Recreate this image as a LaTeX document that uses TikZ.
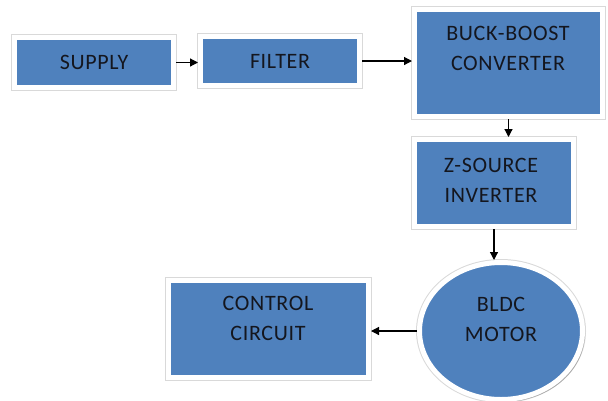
\documentclass[tikz,border=0pt]{standalone}
\usepackage{fontspec}
\setmainfont{Carlito}[LetterSpace=3]
\usetikzlibrary{shadows,arrows.meta,shapes.geometric}
\definecolor{officeblue}{RGB}{79,129,189}
\definecolor{txt}{RGB}{20,22,30}
\begin{document}
\begin{tikzpicture}[x=1pt,y=-1pt,
  blk/.style={rectangle, fill=officeblue, draw=white, line width=5pt,
    preaction={draw=black!15, line width=7pt},
    drop shadow={shadow xshift=2.5pt, shadow yshift=-2.5pt, fill=black!45, opacity=0.6},
    inner sep=0pt, font=\fontsize{22}{30}\selectfont, text=txt, align=center},
  oval/.style={ellipse, fill=officeblue, draw=white, line width=5pt,
    preaction={draw=black!15, line width=7pt},
    drop shadow={shadow xshift=2.5pt, shadow yshift=-2.5pt, fill=black!45, opacity=0.6},
    inner sep=0pt},
  lbl/.style={font=\fontsize{22}{30}\selectfont, text=txt, align=center},
  conn/.style={line width=1.2pt, -{Triangle[length=8pt,width=8pt]}}]
\useasboundingbox (0,0) rectangle (608,400);
\node[blk, minimum width=159pt, minimum height=50pt] (supply) at (94,62.5) {SUPPLY};
\node[blk, minimum width=159pt, minimum height=49pt] (filter) at (280,61) {FILTER};
\node[blk, minimum width=188pt, minimum height=107pt] (buck) at (508.5,63) {};
\node[lbl] (bucklbl) at (508,48) {BUCK-BOOST\\CONVERTER};
\node[blk, minimum width=159pt, minimum height=87pt] (zsrc) at (494,183) {};
\node[lbl] (zlbl) at (491,180) {Z-SOURCE\\INVERTER};
\node[oval, minimum width=163pt, minimum height=137pt] (bldc) at (501,331) {};
\node[lbl] (bldclbl) at (501,319) {BLDC\\MOTOR};
\node[blk, minimum width=200pt, minimum height=97pt] (ctrl) at (268.5,329) {};
\node[lbl] (ctrllbl) at (268,318.5) {CONTROL\\CIRCUIT};
\draw[conn] (supply.east) -- (filter.west |- supply.east);
\draw[conn] (filter.east) -- (filter.east -| buck.west);
\draw[conn] (buck.south) -- (buck.south |- zsrc.north);
\draw[conn] (zsrc.south) -- (zsrc.south |- bldc.north);
\draw[conn] (bldc.west) -- (bldc.west -| ctrl.east);
\end{tikzpicture}
\end{document}
